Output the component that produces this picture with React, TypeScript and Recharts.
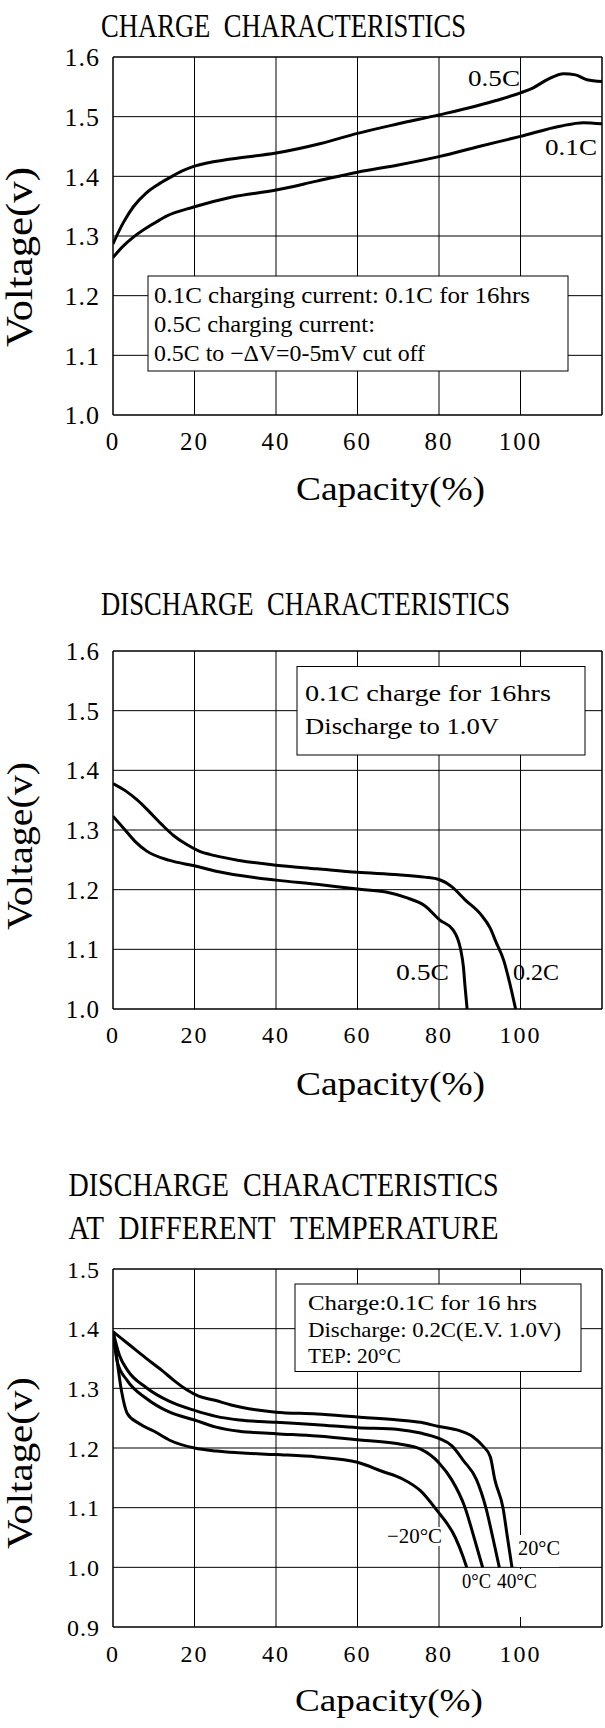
import React from 'react'
import { LineChart, Line, XAxis, YAxis, CartesianGrid, ReferenceArea } from 'recharts'

const FONT = '"Liberation Serif", "Times New Roman", serif'
const GAP = '\u00a0\u00a0'

const capTicks = [0, 20, 40, 60, 80, 100]
const capDomain = [0, 120]

// charge characteristics
const chargeVoltTicks = [1.0, 1.1, 1.2, 1.3, 1.4, 1.5, 1.6]
const charge05Cap = [0, 2.5, 5, 8, 11, 14, 17, 20, 29, 40, 51, 60, 70, 80, 94.5, 100, 103, 106.8, 110.6, 113.5, 116.3, 120]
const charge05Volt = [1.287, 1.322, 1.349, 1.371, 1.386, 1.398, 1.409, 1.417, 1.429, 1.439, 1.455, 1.472, 1.488, 1.503, 1.528, 1.54, 1.548, 1.563, 1.572, 1.57, 1.562, 1.559]
const charge01Cap = [0, 2.5, 5, 10, 13, 20, 29, 40, 50, 60, 70, 80, 89.8, 100, 109.7, 115.4, 120]
const charge01Volt = [1.264, 1.283, 1.298, 1.321, 1.333, 1.349, 1.365, 1.377, 1.392, 1.407, 1.419, 1.433, 1.45, 1.467, 1.484, 1.49, 1.488]

// discharge characteristics
const dischVoltTicks = [1.0, 1.1, 1.2, 1.3, 1.4, 1.5, 1.6]
const disch02Cap = [0, 3, 6, 9, 12, 15, 18, 21, 25, 31, 40, 50, 60, 70, 76.5, 80, 83.1, 86.4, 90.2, 92.6, 94, 95.9, 97.3, 98.8]
const disch02Volt = [1.378, 1.366, 1.35, 1.33, 1.309, 1.29, 1.276, 1.265, 1.257, 1.249, 1.241, 1.235, 1.229, 1.225, 1.221, 1.217, 1.205, 1.183, 1.159, 1.135, 1.112, 1.081, 1.045, 1.0]
const disch05Cap = [0, 2.6, 5.4, 8.2, 13.9, 20, 25.3, 40, 50, 60, 67, 71.8, 76.5, 80.2, 83.4, 85.3, 86, 86.4, 86.9]
const disch05Volt = [1.323, 1.303, 1.281, 1.265, 1.249, 1.24, 1.231, 1.216, 1.209, 1.201, 1.196, 1.187, 1.173, 1.149, 1.133, 1.1, 1.07, 1.037, 1.0]

// discharge at different temperature
const tempVoltTicks = [0.9, 1.0, 1.1, 1.2, 1.3, 1.4, 1.5]
const temp20Cap = [0, 4, 8, 12, 15, 18, 21, 25, 29, 35, 40, 50, 60, 70, 75.5, 80, 85, 88.3, 90.7, 92.6, 93.7, 95.7, 96.8, 97.9]
const temp20Volt = [1.395, 1.373, 1.351, 1.33, 1.313, 1.298, 1.287, 1.28, 1.272, 1.264, 1.26, 1.257, 1.252, 1.247, 1.243, 1.236, 1.229, 1.219, 1.204, 1.185, 1.147, 1.1, 1.05, 1.0]
const temp40Cap = [0, 1.6, 3.5, 8.2, 13.9, 20, 25.3, 31, 40, 50, 60, 70, 75.5, 80, 83.1, 86, 89.2, 91.5, 93.2, 94.8]
const temp40Volt = [1.395, 1.355, 1.331, 1.301, 1.278, 1.263, 1.253, 1.247, 1.243, 1.239, 1.234, 1.231, 1.225, 1.216, 1.204, 1.179, 1.147, 1.1, 1.05, 1.0]
const temp0Cap = [0, 1.1, 3.5, 8.2, 13.9, 20, 25.3, 31, 40, 50, 60, 70, 75.5, 80, 83.1, 86.4, 88.6, 90.7]
const temp0Volt = [1.395, 1.343, 1.313, 1.283, 1.26, 1.247, 1.235, 1.228, 1.224, 1.22, 1.214, 1.207, 1.198, 1.175, 1.147, 1.1, 1.05, 1.0]
const tempM20Cap = [0, 0.7, 2.1, 3.5, 6.4, 10.1, 13.9, 20, 25.3, 31, 40, 50, 60, 66, 70.8, 75.5, 79.3, 84, 85.8, 86.8]
const tempM20Volt = [1.395, 1.362, 1.295, 1.258, 1.241, 1.228, 1.213, 1.2, 1.195, 1.192, 1.189, 1.185, 1.176, 1.161, 1.149, 1.128, 1.097, 1.05, 1.02, 1.0]

const zip = (cap: number[], volt: number[]) => cap.map((c, i) => ({ cap: c, v: volt[i] }))

function T({ x, y, w, size, children }: any) {
  return (
    <text x={x} y={y} fontFamily={FONT} fontSize={size} fill="#000" textLength={w} lengthAdjust="spacingAndGlyphs">
      {children}
    </text>
  )
}

function VLabel({ x, cy, len, size }: any) {
  return (
    <g transform={`translate(${x},${cy}) rotate(-90)`}>
      <text x={-len / 2} y={0} fontFamily={FONT} fontSize={size} fill="#000" textLength={len} lengthAdjust="spacingAndGlyphs">
        Voltage(v)
      </text>
    </g>
  )
}

function Panel({ height, top, bottom, yDomain, yTicks, series, yFont, xFont, xMargin, overlay }: any) {
  return (
    <div style={{ position: 'relative', width: 605, height }}>
      <LineChart width={605} height={height} margin={{ top, right: 3, bottom, left: 0 }}>
        <CartesianGrid stroke="#000" strokeWidth={1} />
        <XAxis
          type="number"
          dataKey="cap"
          domain={capDomain}
          ticks={capTicks}
          allowDataOverflow
          height={40}
          tickLine={false}
          axisLine={false}
          tickSize={0}
          tickMargin={xMargin}
          tick={{ fill: '#000', fontSize: xFont, fontFamily: FONT, letterSpacing: 2 }}
        />
        <YAxis
          type="number"
          domain={yDomain}
          ticks={yTicks}
          allowDataOverflow
          width={113}
          tickLine={false}
          axisLine={false}
          tickSize={0}
          tickMargin={13}
          tickFormatter={(v: number) => v.toFixed(1)}
          tick={{ fill: '#000', fontSize: yFont, fontFamily: FONT, letterSpacing: 1 }}
        />
        <ReferenceArea x1={capDomain[0]} x2={capDomain[1]} y1={yDomain[0]} y2={yDomain[1]} fill="none" stroke="#000" strokeWidth={1} />
        {series.map((s: any) => (
          <Line
            key={s.name}
            name={s.name}
            data={s.data}
            dataKey="v"
            type="monotone"
            stroke="#000"
            strokeWidth={3}
            dot={false}
            activeDot={false}
            isAnimationActive={false}
          />
        ))}
      </LineChart>
      <svg width={605} height={height} style={{ position: 'absolute', left: 0, top: 0, pointerEvents: 'none' }}>
        {overlay}
      </svg>
    </div>
  )
}

export default function App() {
  return (
    <div style={{ width: 605, background: '#fff' }}>
      <style>{'body{margin:0;background:#fff}'}</style>

      {/* Charge characteristics */}
      <Panel
        height={560}
        top={57}
        bottom={105}
        yDomain={[1.0, 1.6]}
        yTicks={chargeVoltTicks}
        yFont={26}
        xFont={25}
        xMargin={17}
        series={[
          { name: '0.5C', data: zip(charge05Cap, charge05Volt) },
          { name: '0.1C', data: zip(charge01Cap, charge01Volt) },
        ]}
        overlay={
          <>
            <T x={101} y={37} w={365} size={34}>{`CHARGE${GAP}CHARACTERISTICS`}</T>
            <VLabel x={32} cy={257} len={180} size={37} />
            <T x={296} y={500} w={189} size={33}>Capacity(%)</T>
            <rect x={148} y={276} width={420} height={95} fill="#fff" stroke="#000" strokeWidth={1} />
            <T x={154} y={303} w={376} size={23}>0.1C charging current: 0.1C for 16hrs</T>
            <T x={154} y={332} w={221} size={23}>0.5C charging current:</T>
            <T x={154} y={361} w={271} size={23}>0.5C to −ΔV=0-5mV cut off</T>
            <T x={468} y={86} w={52} size={24}>0.5C</T>
            <T x={545} y={155} w={52} size={24}>0.1C</T>
          </>
        }
      />

      {/* Discharge characteristics */}
      <Panel
        height={570}
        top={91}
        bottom={81}
        yDomain={[1.0, 1.6]}
        yTicks={dischVoltTicks}
        yFont={25}
        xFont={24}
        xMargin={17}
        series={[
          { name: '0.2C', data: zip(disch02Cap, disch02Volt) },
          { name: '0.5C', data: zip(disch05Cap, disch05Volt) },
        ]}
        overlay={
          <>
            <T x={101} y={55} w={409} size={34}>{`DISCHARGE${GAP}CHARACTERISTICS`}</T>
            <VLabel x={32} cy={286} len={168} size={36} />
            <T x={296} y={535} w={189} size={33}>Capacity(%)</T>
            <rect x={297} y={106.5} width={288} height={88.5} fill="#fff" stroke="#000" strokeWidth={1} />
            <T x={305} y={141} w={246} size={23}>0.1C charge for 16hrs</T>
            <T x={305} y={174} w={194} size={23}>Discharge to 1.0V</T>
            <T x={396} y={420} w={53} size={24}>0.5C</T>
            <T x={513} y={420} w={46} size={24}>0.2C</T>
          </>
        }
      />

      {/* Discharge at different temperature */}
      <Panel
        height={598}
        top={139}
        bottom={61}
        yDomain={[0.9, 1.5]}
        yTicks={tempVoltTicks}
        yFont={24}
        xFont={24}
        xMargin={18}
        series={[
          { name: '20°C', data: zip(temp20Cap, temp20Volt) },
          { name: '40°C', data: zip(temp40Cap, temp40Volt) },
          { name: '0°C', data: zip(temp0Cap, temp0Volt) },
          { name: '-20°C', data: zip(tempM20Cap, tempM20Volt) },
        ]}
        overlay={
          <>
            <T x={68.5} y={66} w={430} size={34}>{`DISCHARGE${GAP}CHARACTERISTICS`}</T>
            <T x={68.5} y={109} w={430} size={34}>{`AT${GAP}DIFFERENT${GAP}TEMPERATURE`}</T>
            <VLabel x={32} cy={333} len={172} size={36} />
            <T x={295} y={581} w={188} size={32}>Capacity(%)</T>
            <rect x={295} y={154} width={286} height={87.5} fill="#fff" stroke="#000" strokeWidth={1} />
            <T x={308} y={180} w={229} size={22}>Charge:0.1C for 16 hrs</T>
            <T x={308} y={207} w={253} size={22}>Discharge: 0.2C(E.V. 1.0V)</T>
            <T x={308} y={233} w={93} size={22}>TEP: 20°C</T>
            <rect x={386} y={397} width={57} height={19} fill="#fff" />
            <rect x={517} y={405} width={42} height={32} fill="#fff" />
            <rect x={460} y={439} width={78} height={48} fill="#fff" />
            <T x={387} y={413} w={55} size={21}>−20°C</T>
            <T x={518} y={425} w={42} size={21}>20°C</T>
            <T x={462} y={458} w={29} size={21}>0°C</T>
            <T x={497} y={458} w={40} size={21}>40°C</T>
          </>
        }
      />
    </div>
  )
}
